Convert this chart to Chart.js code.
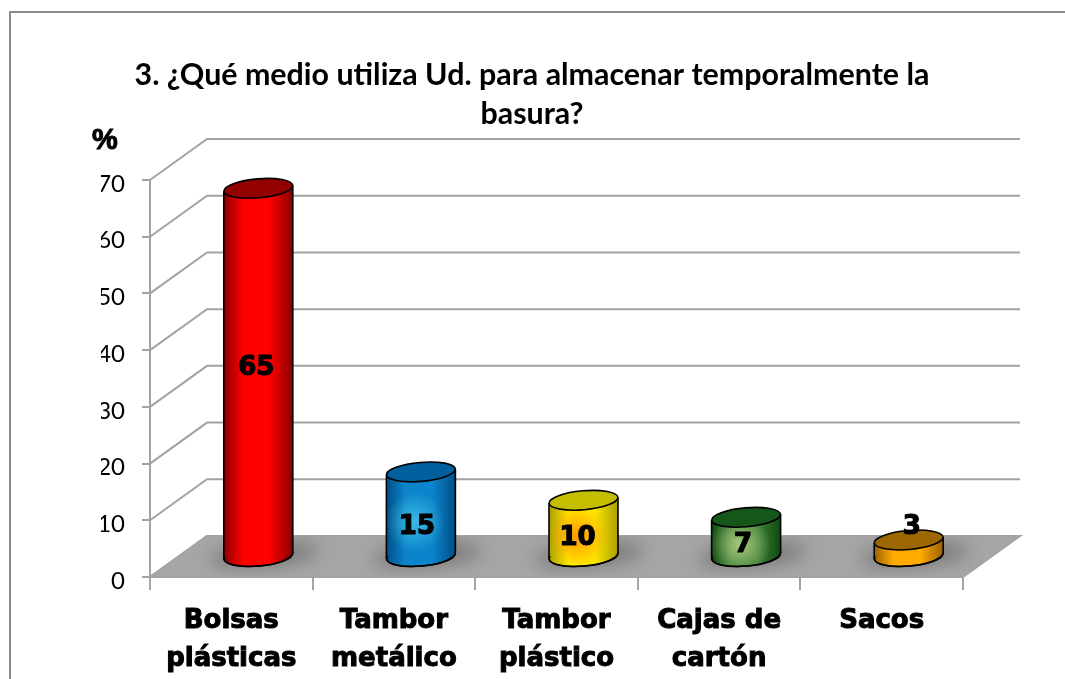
<!DOCTYPE html>
<html>
<head>
<meta charset="utf-8">
<title>Medio de almacenamiento</title>
<script src="https://cdn.jsdelivr.net/npm/chart.js@4"></script>
<style>
  html,body{margin:0;padding:0;background:#fff;overflow:hidden}
  canvas{display:block}
</style>
</head>
<body>
<canvas id="c" width="1065" height="679"></canvas>
<script>
// data
const categories = [['Bolsas','plásticas'],['Tambor','metálico'],['Tambor','plástico'],['Cajas de','cartón'],['Sacos']];
const values = [65,15,10,7,3];
const titleLines = ['3. ¿Qué medio utiliza Ud. para almacenar temporalmente la','basura?'];
const yTicks = [0,10,20,30,40,50,60,70];

// colours per bar
const bodyMid = ['#ff0000','#0c84cc','#ffe800','#3f8034','#ffab00'];
const bodyEdge = ['#8a0000','#004f86','#a89e00','#0f4a12','#9a6200'];
const topFill = ['#930000','#005f9c','#c4bd00','#15561b','#9c6700'];
const glowFill = ['255,0,0,0','90,225,240,0.55','255,140,0,0.8','195,220,150,0.75','255,180,0,0'];
// label nudges from the middle of each cylinder, px
const labelNudgeX = [-2,-4,-6,-3,3];
const labelNudgeY = [-4,13,10,9,-21];

// fake 3d: depth of the box and where the bars sit inside it
const depthX = 57, depthY = -41;
const barDX = 27, barDY = -20;
const rx = 34.5, ry = 9.5, tilt = -5 * Math.PI / 180;
const tiltDrop = rx * Math.sin(-tilt);
const gridGray = '#a3a3a3';

function sideGradient(ctx, cx, mid, edge){
  const g = ctx.createLinearGradient(cx - rx, 0, cx + rx, 0);
  g.addColorStop(0, edge);
  g.addColorStop(0.28, mid);
  g.addColorStop(0.66, mid);
  g.addColorStop(1, edge);
  return g;
}

const box3d = {
  id: 'box3d',
  beforeInit(chart){
    // keeps Lato from joining "ti" in the title
    chart.ctx.letterSpacing = '0.01px';
  },
  beforeDraw(chart){
    const {ctx, chartArea:a, scales:{y}} = chart;
    ctx.save();
    // outer frame, runs off the right and bottom of the picture
    ctx.strokeStyle = '#8c8c8c';
    ctx.lineWidth = 2;
    ctx.beginPath();
    ctx.moveTo(10, 679);
    ctx.lineTo(10, 12);
    ctx.lineTo(1065, 12);
    ctx.stroke();
    // gridlines on the side and back walls
    ctx.strokeStyle = gridGray;
    yTicks.forEach(t => {
      const py = y.getPixelForValue(t);
      ctx.beginPath();
      ctx.moveTo(a.left, py);
      ctx.lineTo(a.left + depthX, py + depthY);
      ctx.lineTo(a.right + depthX, py + depthY);
      ctx.stroke();
    });
    // floor
    const y0 = y.getPixelForValue(0);
    ctx.beginPath();
    ctx.moveTo(a.left, y0);
    ctx.lineTo(a.left + depthX, y0 + depthY);
    ctx.lineTo(a.right + depthX, y0 + depthY);
    ctx.lineTo(a.right, y0);
    ctx.closePath();
    ctx.fillStyle = '#a6a6a6';
    ctx.fill();
    ctx.stroke();
    // soft shadow of each bar on the floor
    ctx.clip();
    ctx.filter = 'blur(9px)';
    ctx.fillStyle = 'rgba(0,0,0,0.3)';
    chart.getDatasetMeta(0).data.forEach(b => {
      ctx.beginPath();
      ctx.ellipse(b.x + barDX + 6, y0 + barDY - 2, rx + 20, ry + 1, tilt, 0, Math.PI * 2);
      ctx.fill();
    });
    ctx.restore();
  },
  beforeDatasetDraw(chart){
    const {ctx} = chart;
    const bars = chart.getDatasetMeta(0).data;
    ctx.save();
    ctx.translate(barDX, barDY);
    // rounded bottoms go under the bar bodies
    bars.forEach((b, i) => {
      ctx.beginPath();
      ctx.ellipse(b.x, b.base, rx, ry + 0.5, tilt, 0, Math.PI * 2);
      ctx.fillStyle = sideGradient(ctx, b.x, bodyMid[i], bodyEdge[i]);
      ctx.fill();
      ctx.strokeStyle = '#000';
      ctx.lineWidth = 1.6;
      ctx.stroke();
    });
    // cut the flat bar ends to the slant of the ellipses
    ctx.beginPath();
    bars.forEach(b => {
      ctx.moveTo(b.x - rx, b.y + tiltDrop);
      ctx.lineTo(b.x + rx, b.y - tiltDrop);
      ctx.lineTo(b.x + rx, b.base - tiltDrop);
      ctx.lineTo(b.x - rx, b.base + tiltDrop);
      ctx.closePath();
    });
    ctx.clip();
  },
  afterDatasetDraw(chart){
    const {ctx} = chart;
    const bars = chart.getDatasetMeta(0).data;
    ctx.restore();
    ctx.save();
    ctx.translate(barDX, barDY);
    bars.forEach((b, i) => {
      // glow in the middle of the body, body plus rounded bottom
      ctx.save();
      ctx.beginPath();
      ctx.rect(b.x - rx, b.y, rx * 2, b.base - b.y);
      ctx.ellipse(b.x, b.base, rx, ry + 0.5, tilt, 0, Math.PI * 2);
      ctx.clip();
      const cy = (b.y + b.base) / 2 + 8;
      const glow = ctx.createRadialGradient(b.x - 6, cy, 2, b.x - 6, cy, 30);
      glow.addColorStop(0, 'rgba(' + glowFill[i] + ')');
      glow.addColorStop(1, 'rgba(' + glowFill[i].split(',').slice(0, 3).join(',') + ',0)');
      ctx.fillStyle = glow;
      ctx.fillRect(b.x - rx, b.y - ry, rx * 2, b.base - b.y + ry * 2);
      ctx.restore();
      // side edges
      ctx.strokeStyle = '#000';
      ctx.lineWidth = 1.6;
      ctx.beginPath();
      ctx.moveTo(b.x - rx, b.y + tiltDrop);
      ctx.lineTo(b.x - rx, b.base + tiltDrop);
      ctx.moveTo(b.x + rx, b.y - tiltDrop);
      ctx.lineTo(b.x + rx, b.base - tiltDrop);
      ctx.stroke();
      // bottom rim again, the glow covers part of it
      ctx.beginPath();
      ctx.ellipse(b.x, b.base, rx, ry + 0.5, tilt, 0, Math.PI);
      ctx.stroke();
      // top cap
      ctx.beginPath();
      ctx.ellipse(b.x, b.y, rx, ry, tilt, 0, Math.PI * 2);
      ctx.fillStyle = topFill[i];
      ctx.fill();
      ctx.stroke();
    });
    // value labels
    ctx.font = 'bold 26px "DejaVu Sans"';
    ctx.textAlign = 'center';
    ctx.textBaseline = 'middle';
    ctx.fillStyle = '#000';
    ctx.strokeStyle = '#000';
    ctx.lineWidth = 1.2;
    bars.forEach((b, i) => {
      const lx = b.x + labelNudgeX[i];
      const ly = (b.y + b.base) / 2 + labelNudgeY[i];
      ctx.fillText(values[i], lx, ly);
      ctx.strokeText(values[i], lx, ly);
    });
    ctx.restore();
    // axis unit
    ctx.save();
    ctx.font = 'bold 29px "Liberation Sans"';
    ctx.textAlign = 'center';
    ctx.textBaseline = 'middle';
    ctx.fillStyle = '#000';
    ctx.strokeStyle = '#000';
    ctx.lineWidth = 1;
    ctx.fillText('%', 105, 141);
    ctx.strokeText('%', 105, 141);
    ctx.restore();
  }
};

new Chart(document.getElementById('c'), {
  type: 'bar',
  data: {
    labels: categories,
    datasets: [{
      data: values,
      clip: false,
      barThickness: rx * 2,
      borderWidth: 0,
      backgroundColor(c){
        const chart = c.chart;
        if (!chart.chartArea || c.dataIndex === undefined) return bodyMid[c.dataIndex || 0];
        const cx = chart.scales.x.getPixelForValue(c.dataIndex);
        return sideGradient(chart.ctx, cx, bodyMid[c.dataIndex], bodyEdge[c.dataIndex]);
      }
    }]
  },
  plugins: [box3d],
  options: {
    responsive: false,
    animation: false,
    layout: {padding: {left: 101, right: 102, top: 0, bottom: 0}},
    plugins: {
      legend: {display: false},
      tooltip: {enabled: false},
      title: {
        display: true,
        text: titleLines,
        color: '#000',
        font: {family: 'Lato', weight: 'bold', size: 30.4, lineHeight: '39px'},
        padding: {top: 56, bottom: 46}
      }
    },
    scales: {
      x: {
        afterFit(s){ s.height = 102; },
        grid: {drawOnChartArea: false, offset: true, color: gridGray, lineWidth: 2, tickLength: 13},
        border: {color: gridGray, width: 2},
        ticks: {
          color: '#000',
          padding: 12,
          maxRotation: 0,
          autoSkip: false,
          textStrokeColor: '#000',
          textStrokeWidth: 1,
          font: {family: '"DejaVu Sans"', weight: 'bold', size: 26, lineHeight: '38px'}
        }
      },
      y: {
        min: 0,
        max: 70,
        afterFit(s){ s.width = 49; },
        afterBuildTicks(s){ s.ticks = yTicks.map(v => ({value: v})); },
        grid: {drawOnChartArea: false, color: gridGray, lineWidth: 2, tickLength: 8},
        border: {color: gridGray, width: 2},
        ticks: {
          color: '#000',
          padding: 17,
          // blank first line pushes the number down a little, as in the original
          callback: v => ['', String(v)],
          font: {family: 'Lato', size: 24, lineHeight: '8px'}
        }
      }
    }
  }
});
</script>
</body>
</html>
